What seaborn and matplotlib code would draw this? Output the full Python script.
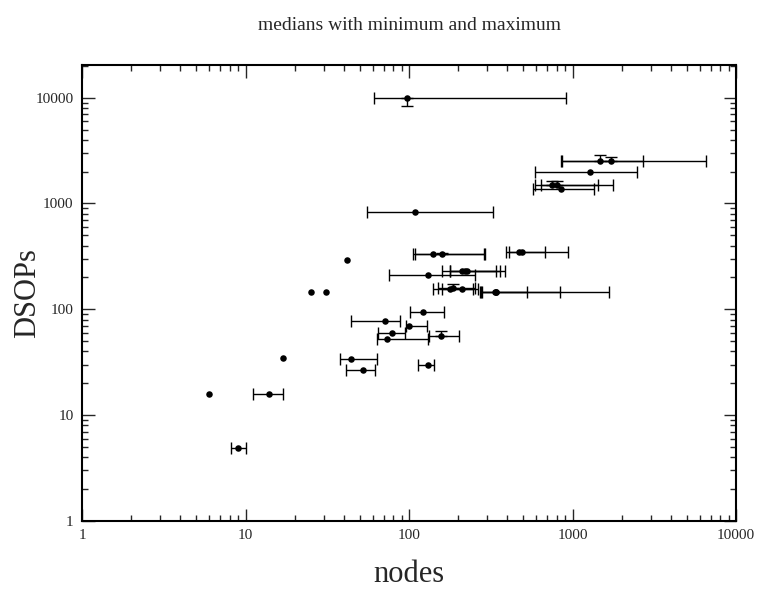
import numpy as np
import pandas as pd
import seaborn as sns
import matplotlib
matplotlib.use("Agg")
import matplotlib.pyplot as plt

# medians with min / max
node_med = [97, 1462, 1706, 1283, 752, 804, 852, 109, 471, 491, 140, 160, 42, 25, 31,
            130, 212, 220, 226, 178, 187, 210, 335, 340, 338, 121, 71, 100, 79, 73,
            157, 44, 52, 131, 17, 6, 14, 9]
node_min = [61, 851, 867, 593, 593, 637, 573, 55, 394, 408, 105, 108, 42, 25, 31,
            75, 158, 178, 178, 141, 151, 158, 272, 278, 275, 101, 44, 96, 65, 64,
            133, 38, 41, 113, 17, 6, 11.1, 8.1]
node_max = [910, 2678, 6520, 2494, 1425, 1778, 1359, 328, 676, 937, 286, 293, 42, 25, 31,
            253, 340, 387, 360, 247, 253, 265, 838, 1664, 525, 164, 88.5, 129, 94.6, 131,
            203, 64, 62, 143, 17, 6, 17, 10.1]
dsop_med = [10000, 2530, 2530, 1990, 1500, 1500, 1375, 834, 350, 350, 330, 330, 294, 147, 147,
            210, 232, 230, 228, 156, 160, 157, 147, 145, 146, 95, 78, 70, 59.4, 52.5,
            56.5, 34, 26.5, 29.6, 35, 16, 16, 4.9]
dsop_min = [8330, 2530, 2530, 1990, 1500, 1500, 1375, 834, 350, 350, 330, 330, 294, 147, 147,
            210, 232, 230, 228, 156, 160, 157, 147, 145, 146, 95, 78, 70, 59.4, 52.5,
            56.5, 34, 26.5, 29.6, 35, 16, 16, 4.9]
dsop_max = [10000, 2860, 2750, 1990, 1615, 1615, 1375, 834, 350, 350, 330, 340, 294, 147, 147,
            210, 232, 230, 228, 156, 174, 157, 147, 145, 146, 95, 78, 70, 59.4, 52.5,
            62, 34, 26.5, 29.6, 35, 16, 16, 4.9]

tick_vals = [1, 10, 100, 1000, 10000]
tick_labels = ["1", "10", "100", "1000", "10000"]

df = pd.DataFrame({"nodes": node_med, "nmin": node_min, "nmax": node_max,
                   "dsops": dsop_med, "dmin": dsop_min, "dmax": dsop_max})

sns.set_style("ticks")
plt.rcParams["font.family"] = ["Liberation Serif", "DejaVu Serif"]

fig = plt.figure(figsize=(7.62, 5.9), dpi=100)
ax = fig.add_axes([0.1076, 0.117, 0.8584, 0.773])

# horizontal ranges
hx = df[(df["nmax"] > df["nmin"])]
ax.errorbar(hx["nodes"], hx["dsops"],
            xerr=[hx["nodes"] - hx["nmin"], hx["nmax"] - hx["nodes"]],
            fmt="none", ecolor="black", elinewidth=1, capsize=4.5, capthick=1)
# vertical ranges
vy = df[(df["dmax"] > df["dmin"])]
ax.errorbar(vy["nodes"], vy["dsops"],
            yerr=[vy["dsops"] - vy["dmin"], vy["dmax"] - vy["dsops"]],
            fmt="none", ecolor="black", elinewidth=1, capsize=4.5, capthick=1)

sns.scatterplot(data=df, x="nodes", y="dsops", ax=ax, color="black",
                s=22, edgecolor="black", linewidth=0, zorder=3)

ax.set_xscale("log")
ax.set_yscale("log")
ax.set_xlim(1, 10000)
ax.set_ylim(1, 20400)
ax.set_xticks(tick_vals)
ax.set_xticklabels(tick_labels)
ax.set_yticks(tick_vals)
ax.set_yticklabels(tick_labels)

ax.tick_params(which="both", direction="in", top=True, right=True, width=1, labelsize=11)
ax.tick_params(which="major", length=9, pad=6)
ax.tick_params(which="minor", length=4.5)
for sp in ax.spines.values():
    sp.set_linewidth(1.5)
    sp.set_color("black")

ax.set_title("medians with minimum and maximum", fontsize=14, pad=25)
ax.set_xlabel("nodes", fontsize=22, labelpad=13)
ax.set_ylabel("DSOPs", fontsize=22, labelpad=-5)

fig.savefig("out.png", dpi=100)
